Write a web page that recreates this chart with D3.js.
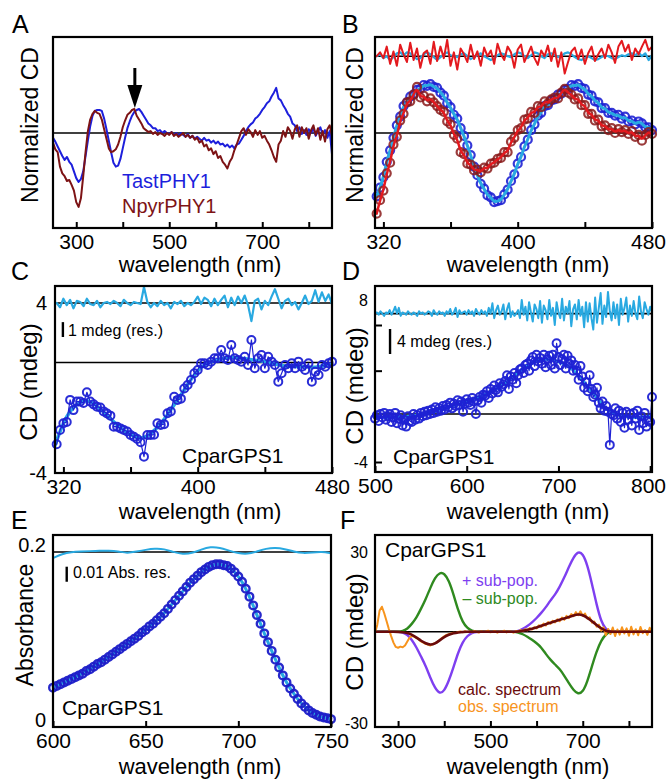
<!DOCTYPE html>
<html><head><meta charset="utf-8">
<script src="https://cdn.jsdelivr.net/npm/d3@7"></script>
<style>body{margin:0;background:#fff}</style>
</head><body>
<script>
// ================= DATA =================
// Panel A: normalized CD, 250..850 nm step 5
const A_start = 250, A_step = 5;
const A_tast = [
 -0.05,-0.09,-0.14,-0.19,-0.24,-0.28,-0.25,-0.3,-0.33,-0.4,
 -0.47,-0.51,-0.48,-0.4,-0.24,-0.08,0.07,0.18,0.23,0.24,
 0.24,0.23,0.15,0.04,-0.08,-0.2,-0.31,-0.35,-0.34,-0.27,
 -0.16,-0.05,0.05,0.12,0.18,0.22,0.24,0.25,0.22,0.18,
 0.14,0.1,0.08,0.05,0.05,0.02,0.03,0.0,0.02,0.0,
 -0.01,0.01,-0.02,0.0,-0.03,0.0,-0.02,-0.04,-0.01,-0.05,
 -0.03,-0.06,-0.04,-0.06,-0.08,-0.05,-0.08,-0.07,-0.1,-0.08,
 -0.11,-0.09,-0.12,-0.11,-0.14,-0.12,-0.15,-0.13,-0.16,-0.12,
 -0.11,-0.07,-0.03,0.02,0.06,0.09,0.11,0.15,0.17,0.2,
 0.24,0.27,0.31,0.33,0.38,0.42,0.47,0.36,0.34,0.29,
 0.25,0.2,0.17,0.1,0.08,0.02,0.06,-0.01,0.03,-0.02,
 0.04,0.0,0.05,-0.03,0.02,0.06,-0.02,0.03,-0.05,0.02,
 -0.22];
const A_npyr = [
 -0.1,-0.17,-0.2,-0.35,-0.42,-0.45,-0.5,-0.49,-0.54,-0.6,
 -0.72,-0.77,-0.68,-0.45,-0.2,0.02,0.14,0.2,0.23,0.21,
 0.2,0.14,0.04,-0.06,-0.16,-0.2,-0.19,-0.17,-0.12,-0.04,
 0.06,0.13,0.19,0.21,0.24,0.25,0.18,0.14,0.1,0.05,
 0.03,0.01,0.02,-0.01,0.01,-0.02,0.0,-0.01,-0.03,0.0,
 -0.02,0.01,-0.03,-0.01,-0.04,-0.02,0.0,-0.04,-0.02,-0.05,
 -0.03,-0.07,-0.05,-0.1,-0.08,-0.14,-0.12,-0.18,-0.16,-0.22,
 -0.19,-0.26,-0.24,-0.3,-0.33,-0.37,-0.3,-0.26,-0.18,-0.12,
 -0.05,0.02,0.05,-0.02,0.04,0.01,-0.04,0.03,-0.02,0.02,
 -0.05,-0.03,-0.08,-0.12,-0.18,-0.25,-0.3,-0.12,-0.08,0.02,
 -0.04,0.06,0.02,-0.06,0.04,0.08,-0.04,0.06,0.0,0.05,
 -0.06,0.03,0.08,-0.02,0.05,-0.07,0.02,-0.09,0.04,0.08,
 -0.03];
const A_arrowWl = 426;
const A_xTicks = [300,400,500,600,700,800], A_xLabels = [300,500,700];

// Panel B: 316..480 nm step 2
const B_start = 316, B_step = 2;
const B_tast = [
 -0.66,-0.57,-0.46,-0.3,-0.18,-0.05,0.08,0.17,0.28,0.32,
 0.38,0.4,0.45,0.46,0.5,0.49,0.51,0.48,0.47,0.42,
 0.39,0.31,0.27,0.19,0.15,0.05,-0.03,-0.13,-0.23,-0.35,
 -0.44,-0.53,-0.58,-0.65,-0.67,-0.72,-0.71,-0.7,-0.64,-0.59,
 -0.5,-0.43,-0.32,-0.25,-0.14,-0.07,0.03,0.09,0.18,0.21,
 0.28,0.29,0.34,0.35,0.4,0.41,0.45,0.46,0.5,0.49,
 0.51,0.47,0.46,0.4,0.39,0.33,0.32,0.26,0.26,0.21,
 0.21,0.18,0.19,0.15,0.17,0.12,0.13,0.09,0.12,0.1,
 0.06,0.06,0.03];
const B_npyr = [
 -0.84,-0.7,-0.6,-0.42,-0.31,-0.12,-0.04,0.13,0.2,0.32,
 0.33,0.4,0.48,0.37,0.39,0.33,0.36,0.32,0.28,0.24,
 0.22,0.12,0.09,-0.02,-0.06,-0.2,-0.22,-0.32,-0.33,-0.39,
 -0.38,-0.41,-0.36,-0.37,-0.32,-0.31,-0.27,-0.26,-0.2,-0.2,
 -0.09,-0.05,0.03,0.05,0.14,0.15,0.22,0.21,0.28,0.27,
 0.33,0.31,0.35,0.37,0.36,0.42,0.46,0.42,0.4,0.35,
 0.36,0.29,0.29,0.2,0.2,0.13,0.14,0.07,0.08,0.03,
 0.05,0.0,0.04,0.01,0.03,-0.01,0.02,-0.04,-0.02,-0.08,
 -0.02,0.01,-0.01];
const B_tastRes = [
 0.8,0.82,0.78,0.8,0.76,0.79,0.83,0.84,0.81,0.84,
 0.83,0.8,0.77,0.78,0.82,0.84,0.82,0.79,0.76,0.79,
 0.82,0.84,0.81,0.8,0.79,0.82,0.83,0.8,0.77,0.79,
 0.81,0.83,0.8,0.78,0.76,0.78,0.81,0.83,0.82,0.8,
 0.79,0.82,0.84,0.83,0.8,0.78,0.81,0.84,0.83,0.8,
 0.78,0.82,0.83,0.81,0.79,0.8,0.83,0.84,0.82,0.79,
 0.77,0.76,0.78,0.8,0.78,0.76,0.77,0.79,0.81,0.8,
 0.78,0.77,0.79,0.81,0.8,0.82,0.83,0.81,0.84,0.8,
 0.83,0.76,0.81];
const B_npyrRes = [
 0.8,0.84,0.78,0.9,0.72,0.85,0.7,0.92,0.82,0.74,
 0.94,0.76,0.88,0.68,0.83,0.86,0.72,0.95,0.75,0.9,
 0.78,0.97,0.7,0.84,0.66,0.88,0.82,0.74,0.92,0.77,
 0.85,0.7,0.89,0.8,0.86,0.72,0.93,0.82,0.76,0.9,
 0.84,0.68,0.87,0.92,0.74,0.82,0.9,0.78,0.71,0.86,
 0.8,0.91,0.75,0.88,0.69,0.84,0.62,0.74,0.85,0.89,
 0.77,0.87,0.72,0.83,0.9,0.75,0.82,0.88,0.78,0.92,
 0.84,0.73,0.9,0.96,0.85,0.92,0.76,0.88,0.82,0.9,
 0.97,0.86,0.9];
const B_resBase = 0.8;
const B_xTicks = [320,360,400,440,480], B_xLabels = [320,400,480];

// Panel C: CD (mdeg), 316..480 step 2
const C_start = 316, C_step = 2;
const C_cd = [
 -2.65,-1.98,-1.66,-1.6,-0.56,-1.04,-0.64,-0.64,-0.7,-0.2,
 -0.64,-0.77,-0.88,-0.92,-1.1,-1.2,-1.3,-1.82,-1.82,-1.9,
 -1.98,-2.05,-2.21,-2.29,-2.4,-2.55,-3.23,-2.21,-2.21,-2.2,
 -1.66,-1.74,-1.7,-1.19,-1.11,-0.41,-0.56,-0.5,-0.02,0.14,
 0.38,0.69,0.85,1.16,1.16,1.08,1.24,1.4,1.4,1.79,
 1.4,1.32,2.02,1.4,1.32,1.24,1.47,1.08,2.26,0.93,
 1.4,1.55,0.93,1.47,1.24,1.08,0.3,0.69,1.08,0.93,
 1.16,0.93,1.24,1.0,0.85,1.16,0.3,0.77,0.61,1.08,
 1.0,1.16,1.24];
const C_fitStart = 315, C_fitStep = 5;
const C_fit = [-2.7,-1.6,-0.95,-0.65,-0.55,-0.85,-1.2,-1.6,-1.95,-2.2,-2.4,-2.3,-1.95,-1.5,-0.9,-0.35,0.3,0.85,1.15,1.3,1.4,1.45,1.42,1.35,1.3,1.25,1.15,1.05,1.0,1.02,1.0,0.95,1.05,1.15];
const C_res = [
 4.0,3.8,4.2,3.9,4.15,3.75,4.1,4.05,3.85,4.2,
 3.95,3.9,4.1,3.8,4.0,4.05,3.95,4.1,4.0,3.85,
 4.15,4.0,3.9,4.05,4.0,3.95,4.75,4.05,3.8,4.0,
 3.85,4.1,3.9,4.0,3.75,4.05,3.95,4.1,3.85,4.0,
 3.9,4.05,4.3,3.95,4.25,4.15,3.85,4.2,3.9,4.15,
 4.35,3.8,4.25,3.9,4.3,4.0,4.35,3.9,3.15,4.1,
 4.2,3.7,4.1,3.9,4.3,4.65,4.2,3.75,4.1,4.2,
 3.9,4.05,3.7,4.0,4.35,3.95,4.1,4.6,4.05,4.5,
 4.1,4.4,3.95];
const C_zero = 1.2, C_resBase = 4;
const C_yLabelVals = [4,-4], C_yLabels = ["4","-4"];
const C_bar = {wl:319.7, v0:2.4, v1:3.1};

// Panel D: CD (mdeg), 500..802 step 2
const D_start = 500, D_step = 2;
const D_cd = [
 -0.2,0.1,-0.4,0.2,-0.1,0.3,-0.3,0.0,0.2,-0.5,
 -0.1,0.3,-0.6,-0.2,0.1,-0.8,-0.3,-0.9,0.0,-0.4,
 -0.5,0.2,-0.3,0.1,-0.2,0.3,0.0,0.4,0.1,0.5,
 0.2,0.6,0.3,0.8,0.4,0.7,0.5,0.9,0.6,1.0,
 0.8,1.2,0.7,1.1,0.9,1.4,1.0,1.3,0.4,1.1,
 1.5,1.2,1.0,1.6,1.3,0.2,1.4,1.7,1.2,1.9,
 1.8,2.2,1.6,2.4,2.0,2.7,2.3,2.1,2.9,2.6,
 2.8,3.1,3.6,2.4,3.5,3.2,3.8,2.9,3.6,4.1,
 4.2,3.8,4.5,4.6,4.0,4.9,5.2,4.4,5.4,4.8,
 5.1,4.6,5.4,4.3,5.0,5.3,4.5,5.4,4.2,6.4,
 5.2,4.5,5.0,5.4,4.2,5.3,4.6,4.9,4.0,4.5,
 4.0,3.2,4.4,3.5,2.5,3.0,2.2,3.6,2.4,1.7,
 1.9,2.5,1.2,0.7,1.3,0.5,0.9,0.4,-2.5,0.2,
 0.1,0.7,-0.2,0.5,-0.5,0.3,-1.0,0.4,-0.3,0.2,
 -0.8,0.3,-0.2,0.5,-1.2,0.0,-0.6,0.3,-0.9,-0.4,
 -0.5,1.7];
const D_fitWl = [500,520,540,560,580,600,620,630,640,650,660,670,680,690,700,710,720,730,740,750,760,770,780,790,800];
const D_fit = [-0.1,-0.1,0,0.3,0.8,1.3,1.9,2.3,2.8,3.4,4.1,4.7,5.0,5.0,4.8,4.5,3.8,2.8,1.8,0.8,0.2,0,-0.1,-0.1,0];
const D_res = [
 9.0,9.1,8.9,9.2,9.0,8.8,9.1,9.0,9.3,8.9,
 9.2,9.6,9.0,9.5,8.8,9.1,9.0,8.9,9.2,9.0,
 8.9,9.1,9.0,8.8,9.2,9.0,9.1,8.9,9.0,9.2,
 9.1,8.8,9.3,9.0,8.9,9.2,9.0,9.1,8.8,9.2,
 9.0,9.4,8.9,9.1,9.5,8.7,9.3,9.0,9.1,9.2,
 8.9,9.3,9.0,9.2,8.8,9.4,9.1,8.9,9.3,9.0,
 9.2,8.8,9.5,9.0,9.9,8.6,9.3,9.7,8.9,9.2,
 9.8,8.5,9.4,9.9,8.7,9.2,8.8,9.0,9.3,8.6,
 10.2,8.9,9.6,8.4,10.0,9.1,8.3,9.8,9.4,8.6,
 10.1,8.2,9.7,9.3,8.5,10.2,8.8,9.5,8.0,10.0,
 9.1,8.6,10.3,8.4,9.6,9.0,10.1,7.9,9.4,9.8,
 8.5,10.2,8.8,9.6,7.8,10.0,8.3,9.9,8.6,7.6,
 10.4,8.2,9.5,10.8,8.1,9.7,8.7,10.9,9.2,8.4,
 10.0,8.6,9.8,8.0,10.3,8.9,9.5,10.4,8.3,9.7,
 8.8,10.1,9.0,8.5,10.5,9.2,8.6,10.0,9.4,8.9,
 9.6,9.1];
const D_zero = 0.2, D_resBase = 9;
const D_yTicks = [-4,4,8];
const D_yLabelVals = [-4,10.2], D_yLabels = ["-4","8"];
const D_bar = {wl:516.4, v0:5.46, v1:7.65};
const D_xTicks = [500,600,700,800], D_xLabels = [500,600,700,800];

// Panel E: absorbance, 600..750 step 2
const E_start = 600, E_step = 2;
const E_abs = [
 0.037,0.039,0.041,0.043,0.045,0.047,0.049,0.051,0.053,0.056,
 0.058,0.061,0.064,0.066,0.069,0.072,0.075,0.078,0.081,0.084,
 0.087,0.09,0.093,0.096,0.1,0.103,0.107,0.11,0.114,0.118,
 0.122,0.127,0.132,0.137,0.142,0.147,0.152,0.157,0.161,0.165,
 0.169,0.172,0.175,0.177,0.178,0.178,0.177,0.176,0.173,0.169,
 0.164,0.158,0.15,0.141,0.131,0.12,0.11,0.099,0.089,0.079,
 0.069,0.06,0.051,0.043,0.036,0.03,0.024,0.019,0.015,0.011,
 0.008,0.006,0.004,0.003,0.002,0.001];
const E_resStart = 600, E_resStep = 5;
const E_res = [0.185,0.19,0.192,0.1925,0.193,0.1935,0.1935,0.193,0.1905,0.1925,0.1945,0.196,0.1955,0.192,0.1895,0.1905,0.195,0.198,0.197,0.1935,0.1905,0.1895,0.1925,0.196,0.197,0.1955,0.1925,0.1905,0.1915,0.1925,0.1905];
const E_resBase = 0.192;
const E_yLabelVals = [0.2,0], E_yLabels = ["0.2","0"];
const E_bar = {wl:607.4, v0:0.158, v1:0.1752};
const E_xTicks = [600,650,700,750], E_xLabels = [600,650,700,750];

// Panel F: CD (mdeg), sub-populations 250..850 step 10, observed step 5
const F_start = 250, F_step = 10;
const F_plus = [
 2,2,2,2,2,2,1.8,1.0,-0.8,-3.5,
 -6.8,-10,-14.2,-17.8,-19.8,-18.8,-15.2,-10.5,-5.3,-1.5,
 0.6,1.7,2,2,2,2,2,2,2,2,
 2,2.2,3.0,4.0,5.3,6.8,8.6,10.6,13.0,15.0,
 17.8,21.0,24.8,28.2,30.2,29.5,25.5,18.8,11.5,5.5,
 2.8,2.0,2,2,2,2,2,2,2,2,
 2];
const F_minus = [
 2,2,2,2,2,2,2.2,3.0,4.8,7.0,
 10.2,13.5,17.5,21.0,22.8,22.6,20.0,15.2,9.5,5.3,
 3.3,2.3,2,2,2,2,2,2,2,2,
 2,1.8,1.2,0.3,-0.8,-2.0,-3.4,-5.8,-7.8,-9.5,
 -11.0,-13.4,-16.0,-18.5,-19.9,-19.2,-15.5,-10.0,-4.8,-1.0,
 1.2,2.0,2,2,2,2,2,2,2,2,
 2];
const F_calc = [
 2,2,2,2,2,2,1.9,1.6,1.0,0.0,
 -1.2,-2.1,-2.6,-2.2,-1.0,0.2,1.0,1.5,1.8,1.95,
 2,2,2,2,2,2,2,2,2,2,
 2,2.1,2.4,2.7,3.1,3.5,4.1,4.7,5.2,5.7,
 6.2,6.7,7.2,7.7,8.2,7.9,6.9,5.7,4.4,3.2,
 2.3,2.0,2,2,2,2,2,2,2,2,
 2];
const F_obsStart = 250, F_obsStep = 5;
const F_obs = [
 1.5,4.5,9.5,10.8,8.5,5.8,3.0,0.5,-1.8,-3.3,
 -3.6,-3.2,-3.4,-2.8,-1.4,0.0,0.5,0.3,-0.2,-0.6,
 -1.4,-1.8,-2.3,-2.5,-2.8,-2.3,-2.0,-1.6,-0.9,-0.2,
 0.4,0.9,1.2,1.4,1.7,1.6,1.9,2.1,1.8,2.2,
 1.9,2.1,1.8,2.3,2.0,1.7,2.2,1.9,2.1,2.4,
 1.8,2.0,2.3,1.7,2.1,1.9,2.4,1.8,2.2,2.0,
 1.7,2.3,2.1,2.6,2.2,2.9,2.5,3.3,2.8,3.6,
 3.2,4.3,3.7,4.9,4.2,5.4,4.8,5.9,5.3,6.4,
 5.7,7.0,6.2,7.6,6.8,8.2,7.5,8.9,7.8,9.2,
 7.6,8.4,6.6,7.1,5.2,5.6,3.8,4.5,2.4,3.6,
 0.8,3.0,1.2,3.5,0.5,2.8,1.0,3.6,1.4,3.2,
 0.6,3.8,1.1,2.9,0.8,3.7,1.5,2.6,0.9,3.4,
 1.8];
const F_zero = 2;
const F_yLabelVals = [30,-30], F_yLabels = ["30","-30"];

// ================= DRAWING =================
const FONT = "'Liberation Sans', Arial, Helvetica, sans-serif";
const COL = {
  blue:"#1d1fdc", dred:"#7d1315", lblue:"#29a9e1", red:"#e3191e",
  circ:"#1f22d4", purple:"#7e3ff0", green:"#2f8a1f", calc:"#6a0b0b", orange:"#f7941d"
};
const W = 669;
const svg = d3.select("body").append("svg").attr("width",W).attr("height",782).style("display","block");

let clipN = 0;
function panel(fr, xd, yd, yr){
  const x = d3.scaleLinear().domain(xd).range([fr.x0, fr.x1]);
  const y = d3.scaleLinear().domain(yd).range(yr);
  const id = "clp" + (clipN++);
  svg.append("clipPath").attr("id", id).append("rect")
    .attr("x", fr.x0).attr("y", fr.y0).attr("width", fr.x1-fr.x0).attr("height", fr.y1-fr.y0);
  const gl = svg.append("g").attr("clip-path", `url(#${id})`);
  const gp = svg.append("g");
  return {fr, x, y, gl, gp};
}
const ser = (start, step, vals) => vals.map((v,i) => [start + i*step, v]);
const pairs = (xs, vals) => vals.map((v,i) => [xs[i], v]);
function hline(P, v, w){
  P.gl.append("line").attr("x1",P.fr.x0).attr("x2",P.fr.x1).attr("y1",P.y(v)).attr("y2",P.y(v))
    .attr("stroke","#000").attr("stroke-width", w||1.6);
}
function line(P, data, color, w, curve, g){
  const gen = d3.line().x(d=>P.x(d[0])).y(d=>P.y(d[1])).curve(curve||d3.curveLinear);
  (g||P.gl).append("path").attr("d", gen(data)).attr("fill","none").attr("stroke",color)
    .attr("stroke-width", w).attr("stroke-linejoin","round").attr("stroke-linecap","round");
}
function circles(P, data, color, r, w, op){
  P.gp.append("g").selectAll("circle").data(data).join("circle")
    .attr("cx", d=>P.x(d[0])).attr("cy", d=>P.y(d[1])).attr("r", r)
    .attr("fill","none").attr("stroke", color).attr("stroke-width", w).attr("stroke-opacity", op||1);
}
function frame(P){
  svg.append("rect").attr("x",P.fr.x0).attr("y",P.fr.y0).attr("width",P.fr.x1-P.fr.x0).attr("height",P.fr.y1-P.fr.y0)
    .attr("fill","none").attr("stroke","#000").attr("stroke-width",2.2);
}
function xAxis(P, ticks, labels){
  const ax = d3.axisBottom(P.x).tickValues(ticks).tickSize(-6).tickPadding(6)
    .tickFormat(d => labels.includes(d) ? String(d) : "");
  const g = svg.append("g").attr("transform", `translate(0,${P.fr.y1})`).call(ax);
  g.select(".domain").remove();
  g.attr("font-family", FONT).attr("font-size", 21);
  g.selectAll(".tick line").attr("stroke","#000").attr("stroke-width",2);
  g.selectAll("text").attr("fill","#000").each(function(){
    const b = this.getBBox();
    const tx = d3.select(this.parentNode).attr("transform");
    const m = /translate\(([-\d.]+)/.exec(tx);
    const px = m ? +m[1] : 0;
    const right = px + b.x + b.width;
    if (right > W - 3) d3.select(this).attr("x", (W - 3) - right);
  });
}
function yLabels(P, vals, labels, size, pad){
  const ax = d3.axisLeft(P.y).tickValues(vals).tickSize(0).tickPadding(pad)
    .tickFormat((d,i) => labels[i]);
  const g = svg.append("g").attr("transform", `translate(${P.fr.x0},0)`).call(ax);
  g.select(".domain").remove();
  g.attr("font-family", FONT).attr("font-size", size);
  g.selectAll("text").attr("fill","#000");
}
function yTicksIn(P, vals){
  const ax = d3.axisLeft(P.y).tickValues(vals).tickSize(-7).tickFormat("");
  const g = svg.append("g").attr("transform", `translate(${P.fr.x0},0)`).call(ax);
  g.select(".domain").remove();
  g.selectAll(".tick line").attr("stroke","#000").attr("stroke-width",2);
}
function txt(x, y, t, size, color, anchor, rot){
  const e = svg.append("text").attr("font-family", FONT).attr("font-size", size)
    .attr("fill", color||"#000").attr("text-anchor", anchor||"start").text(t);
  if (rot) e.attr("transform", `translate(${x},${y}) rotate(-90)`);
  else e.attr("x", x).attr("y", y);
  return e;
}
function scaleBar(P, b, label, tx, ty){
  svg.append("line").attr("x1",P.x(b.wl)).attr("x2",P.x(b.wl)).attr("y1",P.y(b.v0)).attr("y2",P.y(b.v1))
    .attr("stroke","#000").attr("stroke-width",2.4);
  txt(tx, ty, label, 16);
}

// ---------- Panel A ----------
const PA = panel({x0:53,x1:332,y0:37,y1:228}, [250,850], [-1,1], [229,37]);
hline(PA, 0);
line(PA, ser(A_start,A_step,A_tast), COL.blue, 2);
line(PA, ser(A_start,A_step,A_npyr), COL.dred, 2);
{
  const ax = PA.x(A_arrowWl);
  svg.append("line").attr("x1",ax).attr("x2",ax).attr("y1",68).attr("y2",88).attr("stroke","#000").attr("stroke-width",3);
  svg.append("path").attr("d",`M${ax-7.5},85 L${ax+7.5},85 L${ax},108 Z`).attr("fill","#000");
}
frame(PA);
xAxis(PA, A_xTicks, A_xLabels);
txt(122, 188, "TastPHY1", 20, COL.blue);
txt(122, 213, "NpyrPHY1", 20, COL.dred);
txt(38, 125, "Normalized CD", 23, "#000", "middle", true);
txt(200, 272, "wavelength (nm)", 22, "#000", "middle");
txt(12, 33, "A", 25);

// ---------- Panel B ----------
const PB = panel({x0:375,x1:652,y0:37,y1:228}, [315,480], [-1,1], [229,37]);
hline(PB, 0);
hline(PB, B_resBase);
line(PB, ser(B_start,B_step,B_tastRes), COL.lblue, 2.2);
line(PB, ser(B_start,B_step,B_npyrRes), COL.red, 2);
circles(PB, ser(B_start,B_step,B_tast), COL.circ, 4, 2.2, 0.9);
line(PB, ser(B_start,B_step,B_tast), COL.lblue, 3, d3.curveBasis, PB.gp);
circles(PB, ser(B_start,B_step,B_npyr), "#8a1a1a", 4, 2.2, 0.85);
line(PB, ser(B_start,B_step,B_npyr), COL.red, 2.5, d3.curveBasis, PB.gp);
frame(PB);
xAxis(PB, B_xTicks, B_xLabels);
txt(363, 125, "Normalized CD", 23, "#000", "middle", true);
txt(528, 272, "wavelength (nm)", 22, "#000", "middle");
txt(342, 33, "B", 25);

// ---------- Panel C ----------
const PC = panel({x0:55,x1:332,y0:286,y1:473}, [315,480], [-4,4], [473,303]);
hline(PC, C_zero);
hline(PC, C_resBase);
line(PC, ser(C_start,C_step,C_res), COL.lblue, 2.2);
line(PC, ser(C_start,C_step,C_cd), COL.circ, 1.2, d3.curveLinear, PC.gp);
line(PC, ser(C_fitStart,C_fitStep,C_fit), COL.lblue, 3.5, d3.curveBasis);
circles(PC, ser(C_start,C_step,C_cd), COL.circ, 4, 2, 0.95);
frame(PC);
xAxis(PC, B_xTicks, B_xLabels);
yLabels(PC, C_yLabelVals, C_yLabels, 20, 8);
scaleBar(PC, C_bar, "1 mdeg (res.)", 68, 336);
txt(182, 463, "CparGPS1", 21);
txt(37, 382, "CD (mdeg)", 24, "#000", "middle", true);
txt(200, 519, "wavelength (nm)", 22, "#000", "middle");
txt(11, 280, "C", 25);

// ---------- Panel D ----------
const PD = panel({x0:375,x1:652,y0:286,y1:472}, [500,802], [-4,8], [462,325]);
hline(PD, D_zero);
hline(PD, D_resBase);
line(PD, ser(D_start,D_step,D_res), COL.lblue, 2);
line(PD, ser(D_start,D_step,D_cd), COL.circ, 1.2, d3.curveLinear, PD.gp);
line(PD, pairs(D_fitWl,D_fit), COL.lblue, 3, d3.curveBasis);
circles(PD, ser(D_start,D_step,D_cd), COL.circ, 4, 2, 0.95);
frame(PD);
yTicksIn(PD, D_yTicks);
xAxis(PD, D_xTicks, D_xLabels);
yLabels(PD, D_yLabelVals, D_yLabels, 16, 7);
scaleBar(PD, D_bar, "4 mdeg (res.)", 397, 347);
txt(393, 464, "CparGPS1", 21);
txt(363, 386, "CD (mdeg)", 24, "#000", "middle", true);
txt(528, 519, "wavelength (nm)", 22, "#000", "middle");
txt(342, 280, "D", 25);

// ---------- Panel E ----------
const PE = panel({x0:53,x1:331,y0:535,y1:727}, [600,750], [0,0.2], [720,545]);
hline(PE, E_resBase);
line(PE, ser(E_resStart,E_resStep,E_res), COL.lblue, 2, d3.curveBasis);
line(PE, ser(E_start,E_step,E_abs), COL.lblue, 3, d3.curveBasis);
circles(PE, ser(E_start,E_step,E_abs), "#1c1ec8", 3.8, 2.4, 0.95);
frame(PE);
xAxis(PE, E_xTicks, E_xLabels);
yLabels(PE, E_yLabelVals, E_yLabels, 20, 7);
scaleBar(PE, E_bar, "0.01 Abs. res.", 73, 578);
txt(62, 715, "CparGPS1", 21);
txt(33, 625, "Absorbance", 23, "#000", "middle", true);
txt(200, 774, "wavelength (nm)", 22, "#000", "middle");
txt(11, 529, "E", 25);

// ---------- Panel F ----------
const PF = panel({x0:375,x1:652,y0:535,y1:727}, [250,850], [-30,30], [723,552]);
hline(PF, F_zero);
line(PF, ser(F_start,F_step,F_plus), COL.purple, 2.4, d3.curveBasis);
line(PF, ser(F_start,F_step,F_minus), COL.green, 2.4, d3.curveBasis);
line(PF, ser(F_obsStart,F_obsStep,F_obs), COL.orange, 2);
line(PF, ser(F_start,F_step,F_calc), COL.calc, 2.6, d3.curveBasis);
frame(PF);
xAxis(PF, A_xTicks, A_xLabels);
yLabels(PF, F_yLabelVals, F_yLabels, 16, 7);
txt(385, 557, "CparGPS1", 21);
txt(538, 586, "+ sub-pop.", 16, COL.purple, "end");
txt(538, 604, "\u2013 sub-pop.", 16, COL.green, "end");
txt(458, 695, "calc. spectrum", 16, COL.calc);
txt(458, 712, "obs. spectrum", 16, COL.orange);
txt(363, 632, "CD (mdeg)", 24, "#000", "middle", true);
txt(528, 774, "wavelength (nm)", 22, "#000", "middle");
txt(340, 529, "F", 25);
</script>
</body></html>
